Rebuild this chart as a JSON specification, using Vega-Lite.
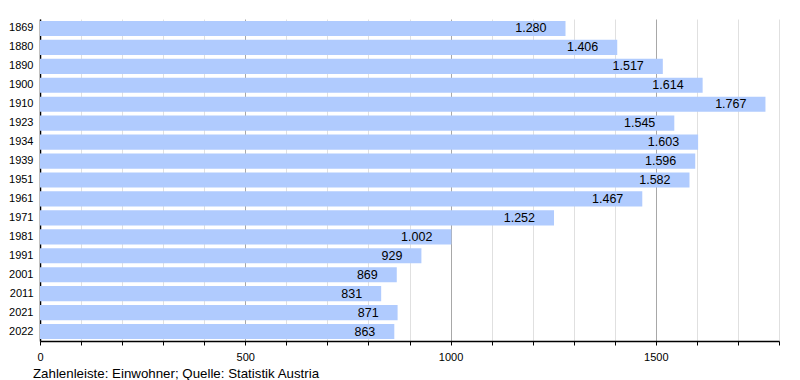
{
  "$schema": "https://vega.github.io/schema/vega-lite/v6.json",
  "autosize": "none",
  "width": 739,
  "height": 322,
  "padding": {"left": 40, "top": 19, "right": 21, "bottom": 39},
  "background": "white",
  "config": {
    "font": "Liberation Sans",
    "view": {"stroke": null},
    "locale": {"number": {"decimal": ",", "thousands": ".", "grouping": [3], "currency": ["", " €"]}}
  },
  "title": {
    "text": "Zahlenleiste: Einwohner; Quelle: Statistik Austria",
    "orient": "bottom",
    "anchor": "start",
    "frame": "group",
    "dx": -7,
    "offset": 5,
    "fontSize": 13.3,
    "fontWeight": "normal",
    "color": "#000"
  },
  "data": {
    "values": [
      {"jahr": "1869", "einwohner": 1280},
      {"jahr": "1880", "einwohner": 1406},
      {"jahr": "1890", "einwohner": 1517},
      {"jahr": "1900", "einwohner": 1614},
      {"jahr": "1910", "einwohner": 1767},
      {"jahr": "1923", "einwohner": 1545},
      {"jahr": "1934", "einwohner": 1603},
      {"jahr": "1939", "einwohner": 1596},
      {"jahr": "1951", "einwohner": 1582},
      {"jahr": "1961", "einwohner": 1467},
      {"jahr": "1971", "einwohner": 1252},
      {"jahr": "1981", "einwohner": 1002},
      {"jahr": "1991", "einwohner": 929},
      {"jahr": "2001", "einwohner": 869},
      {"jahr": "2011", "einwohner": 831},
      {"jahr": "2021", "einwohner": 871},
      {"jahr": "2022", "einwohner": 863}
    ]
  },
  "encoding": {
    "y": {
      "field": "jahr",
      "type": "nominal",
      "sort": null,
      "title": null,
      "scale": {"paddingInner": 0.2, "paddingOuter": 0.1},
      "axis": {
        "ticks": false,
        "domainColor": "#000",
        "domainWidth": 1.5,
        "labelFontSize": 11,
        "labelColor": "#000",
        "labelPadding": 7
      }
    },
    "x": {
      "field": "einwohner",
      "type": "quantitative",
      "title": null,
      "scale": {"domain": [0, 1800], "nice": false},
      "axis": {
        "values": [0, 100, 200, 300, 400, 500, 600, 700, 800, 900, 1000, 1100, 1200, 1300, 1400, 1500, 1600, 1700, 1800],
        "labelExpr": "datum.value % 500 === 0 ? datum.value : ''",
        "format": "d",
        "grid": true,
        "gridColor": {"condition": {"test": "datum.value % 500 === 0", "value": "#a8a8a8"}, "value": "#e0e0e0"},
        "domainColor": "#000",
        "domainWidth": 1.5,
        "tickColor": "#000",
        "tickSize": 4,
        "labelFontSize": 11,
        "labelColor": "#000",
        "labelPadding": 6,
        "labelFlush": false
      }
    }
  },
  "layer": [
    {"mark": {"type": "bar", "color": "#b0cbfe"}},
    {
      "mark": {"type": "text", "align": "right", "baseline": "middle", "dx": -19, "fontSize": 12.5, "color": "#000"},
      "encoding": {"text": {"field": "einwohner", "type": "quantitative", "format": ",d"}}
    }
  ]
}
